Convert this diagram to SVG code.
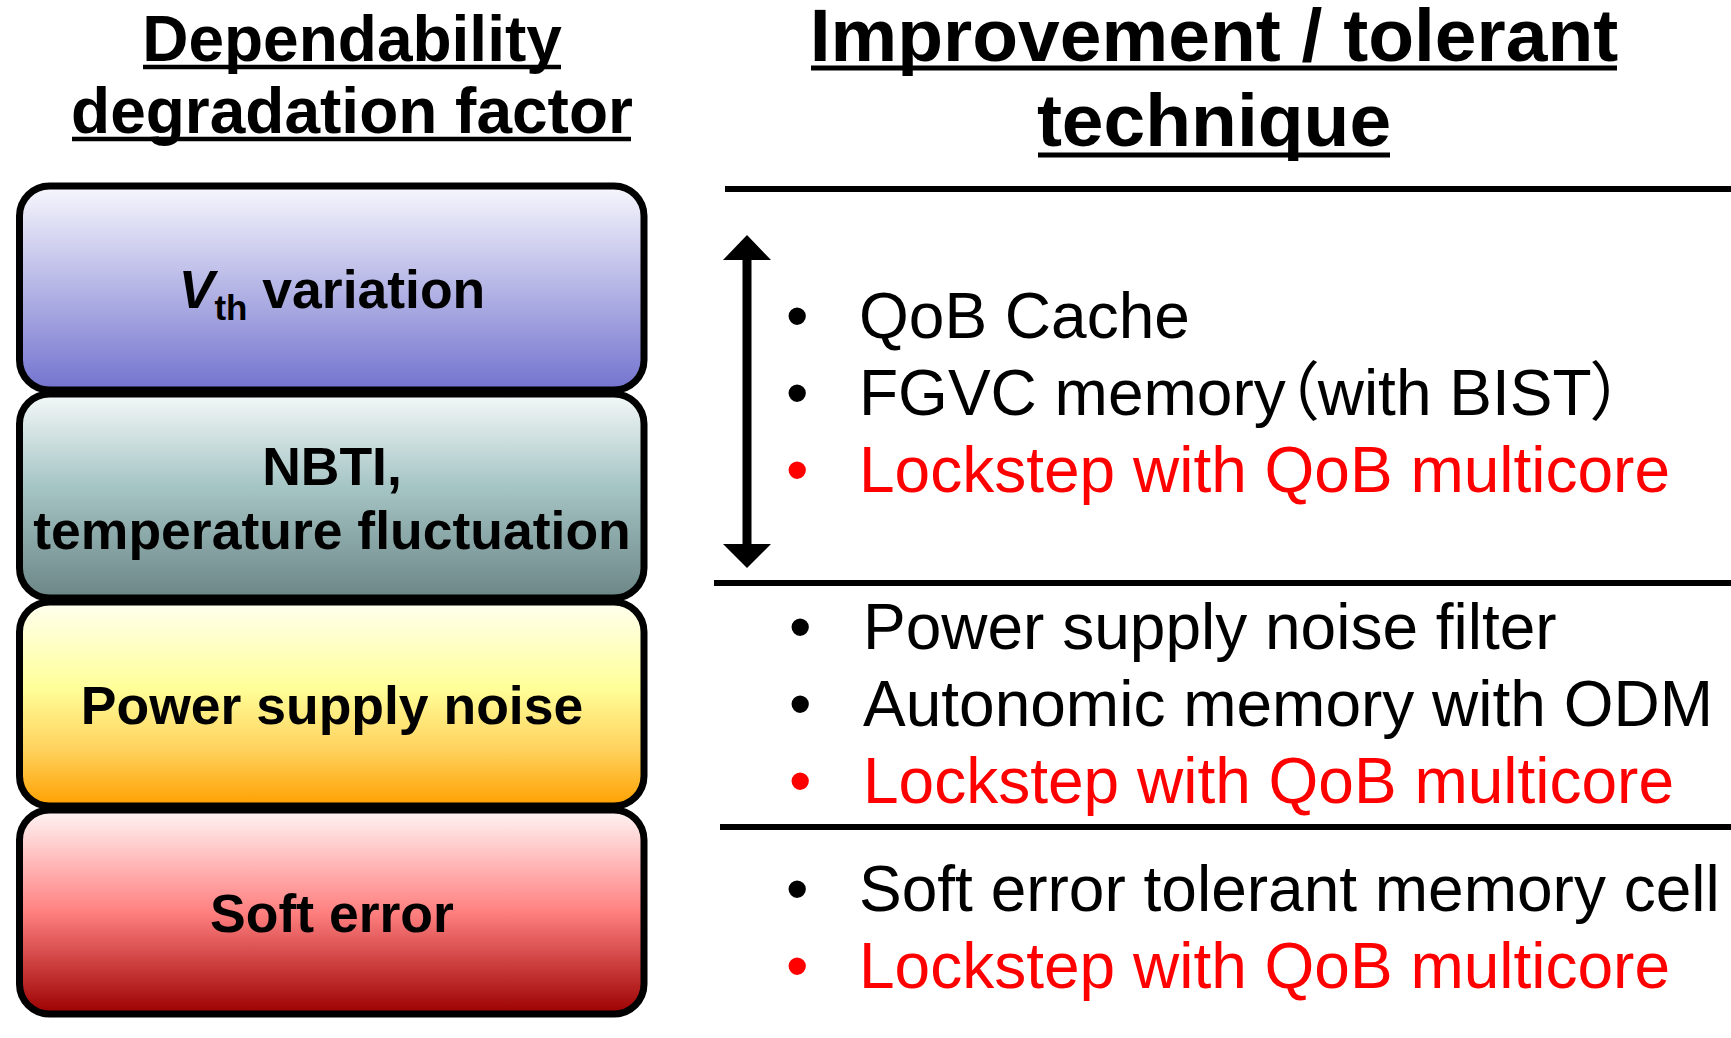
<svg xmlns="http://www.w3.org/2000/svg" width="1731" height="1038" viewBox="0 0 1731 1038">
<style>
.title{font-family:"Liberation Sans",Arial,sans-serif;font-weight:bold;fill:#000;text-anchor:middle}
.lt{font-size:64px}
.rt{font-size:75px}
.box{stroke:#000;stroke-width:7}
.bt{font-family:"Liberation Sans",Arial,sans-serif;font-weight:bold;font-size:53.5px;fill:#000;text-anchor:middle}
.item{font-family:"Liberation Sans",Arial,"Noto Sans CJK JP",sans-serif;font-size:64px;fill:#000}
.red{fill:#FF0000}
.rule{stroke:#000;fill:none}
</style>
<defs>
<linearGradient id="gV" x1="0" y1="0" x2="0" y2="1">
<stop offset="0" stop-color="#F7F7FD"/><stop offset="1" stop-color="#7373CF"/>
</linearGradient>
<linearGradient id="gN" x1="0" y1="0" x2="0" y2="1">
<stop offset="0" stop-color="#F4F8F8"/><stop offset="0.45" stop-color="#A6C5C5"/><stop offset="1" stop-color="#6C8686"/>
</linearGradient>
<linearGradient id="gP" x1="0" y1="0" x2="0" y2="1">
<stop offset="0" stop-color="#FFFFF0"/><stop offset="0.42" stop-color="#FFFF99"/><stop offset="0.72" stop-color="#FFD25E"/><stop offset="1" stop-color="#FFA000"/>
</linearGradient>
<linearGradient id="gS" x1="0" y1="0" x2="0" y2="1">
<stop offset="0" stop-color="#FFF5F5"/><stop offset="0.5" stop-color="#FF8080"/><stop offset="1" stop-color="#9C0000"/>
</linearGradient>
</defs>
<rect width="1731" height="1038" fill="#fff"/>

<g id="title-left">
<text class="title lt" x="352" y="61">Dependability</text>
<line class="rule" x1="143" y1="67" x2="561" y2="67" stroke-width="4.5"/>
<text class="title lt" x="352" y="133">degradation factor</text>
<line class="rule" x1="72" y1="139" x2="631" y2="139" stroke-width="4.5"/>
</g>

<g id="title-right">
<text class="title rt" x="1214" y="61">Improvement / tolerant</text>
<line class="rule" x1="811" y1="68" x2="1617" y2="68" stroke-width="5"/>
<text class="title rt" x="1214" y="146">technique</text>
<line class="rule" x1="1038" y1="155" x2="1390" y2="155" stroke-width="5"/>
</g>

<g id="node-vth">
<rect class="box" x="19.5" y="186" width="624.5" height="204" rx="30" fill="url(#gV)"/>
<text class="bt" x="332" y="308"><tspan font-style="italic">V</tspan><tspan font-size="35" dy="12">th</tspan><tspan dy="-12"> variation</tspan></text>
</g>
<g id="node-nbti">
<rect class="box" x="19.5" y="394" width="624.5" height="204" rx="30" fill="url(#gN)"/>
<text class="bt" x="332" y="485">NBTI,</text>
<text class="bt" x="332" y="549">temperature fluctuation</text>
</g>
<g id="node-power">
<rect class="box" x="19.5" y="602" width="624.5" height="204" rx="30" fill="url(#gP)"/>
<text class="bt" x="332" y="724">Power supply noise</text>
</g>
<g id="node-soft">
<rect class="box" x="19.5" y="810" width="624.5" height="204" rx="30" fill="url(#gS)"/>
<text class="bt" x="332" y="932">Soft error</text>
</g>

<g id="separators">
<line class="rule" x1="725" y1="189" x2="1731" y2="189" stroke-width="6"/>
<line class="rule" x1="714" y1="583" x2="1731" y2="583" stroke-width="6"/>
<line class="rule" x1="720" y1="827" x2="1731" y2="827" stroke-width="6"/>
</g>

<g id="connectors">
<path d="M747,235 L771,260 L751.5,260 L751.5,544 L771,544 L747,568 L723,544 L742.5,544 L742.5,260 L723,260 Z" fill="#000"/>
</g>

<g id="techniques-vth">
<text class="item" x="786" y="338">•</text><text class="item" x="859" y="338">QoB Cache</text>
<text class="item" x="786" y="415">•</text><text class="item" x="859" y="415" style="font-feature-settings:'palt'">FGVC memory（with BIST）</text>
<text class="item red" x="786" y="492">•</text><text class="item red" x="859" y="492">Lockstep with QoB multicore</text>
</g>
<g id="techniques-power">
<text class="item" x="789" y="649">•</text><text class="item" x="863" y="649">Power supply noise filter</text>
<text class="item" x="789" y="726">•</text><text class="item" x="863" y="726">Autonomic memory with ODM</text>
<text class="item red" x="789" y="803">•</text><text class="item red" x="863" y="803">Lockstep with QoB multicore</text>
</g>
<g id="techniques-soft">
<text class="item" x="786" y="911">•</text><text class="item" x="859" y="911">Soft error tolerant memory cell</text>
<text class="item red" x="786" y="988">•</text><text class="item red" x="859" y="988">Lockstep with QoB multicore</text>
</g>
</svg>
